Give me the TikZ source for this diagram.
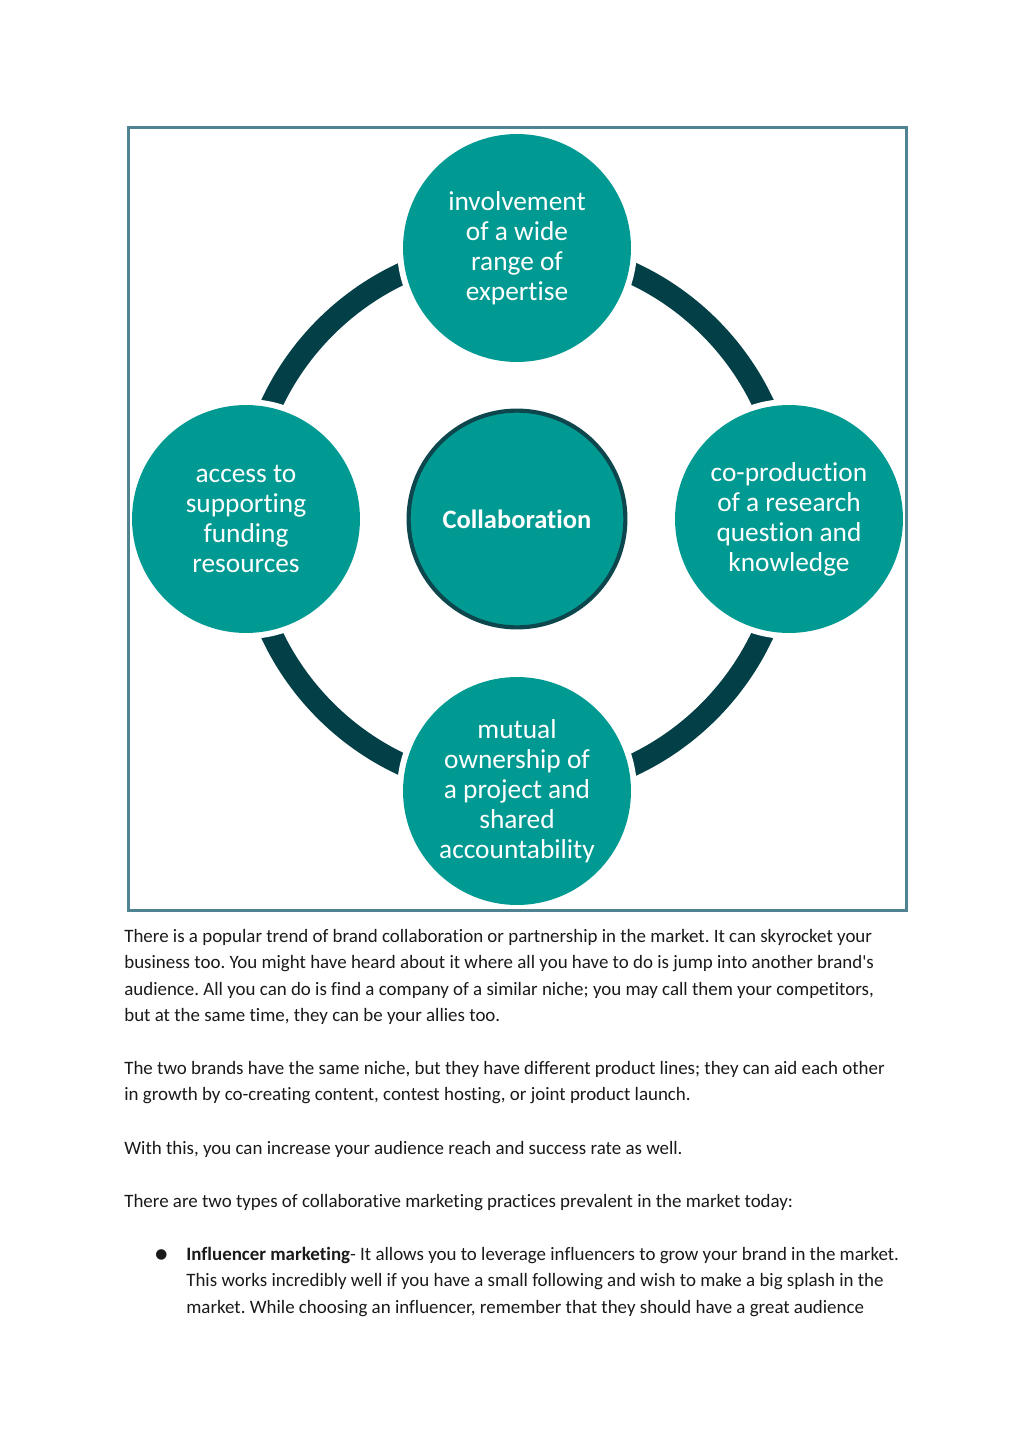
\documentclass[tikz,border=0pt]{standalone}
\usepackage{fontspec}
\setmainfont{Carlito}[Ligatures={TeX,NoCommon}]
\newfontfamily\symf{DejaVu Sans}
\frenchspacing
\definecolor{tealfill}{HTML}{009A93}
\definecolor{ringcol}{HTML}{023F46}
\definecolor{centbord}{HTML}{0D474D}
\definecolor{framecol}{HTML}{4F8391}
\definecolor{bodytext}{HTML}{1A1A1A}
\tikzset{
  bub/.style={circle, fill=tealfill, minimum size=132.5pt, inner sep=0pt,
    text=white, align=center, font=\fontsize{15.9}{17.4}\selectfont,
    preaction={draw=white, line width=7pt}},
  centbub/.style={circle, fill=tealfill, draw=centbord, line width=2.4pt,
    minimum size=126pt, inner sep=0pt, text=white,
    font=\bfseries\fontsize{15.4}{17.4}\selectfont},
  ringarc/.style={draw=ringcol, line width=12.8pt},
  bodyline/.style={anchor=base west, inner sep=0pt, text=bodytext,
    font=\fontsize{11}{13}\selectfont},
}
\begin{document}
\begin{tikzpicture}[x=0.58125pt, y=-0.58125pt]
\useasboundingbox (0,0) rectangle (1024,1446);
\fill[white] (0,0) rectangle (1024,1446);
% centres
\coordinate (ct) at (517,248);
\coordinate (cl) at (246,519);
\coordinate (cr) at (789,519);
\coordinate (cb) at (517,791);
\coordinate (cc) at (517,519);
% ring arcs
\draw[ringarc] (ct) arc[start angle=-90, end angle=-180, radius=271];
\draw[ringarc] (cl) arc[start angle=-180, end angle=-270, radius=271];
\draw[ringarc] (cb) arc[start angle=90, end angle=0, radius=271];
\draw[ringarc] (cr) arc[start angle=0, end angle=-90, radius=271];
% bubbles
\node[bub] (top) at (ct) {involvement\\of a wide\\range of\\expertise};
\node[bub] (left) at (cl) {access to\\supporting\\funding\\resources};
\node[bub] (right) at (cr) {co-production\\of a research\\question and\\knowledge};
\node[bub] (bottom) at (cb) {mutual\\ownership of\\a project and\\shared\\accountability};
\node[centbub] (centre) at (cc) {Collaboration};
% frame
\node[draw=framecol, line width=1.75pt, minimum width=452pt, minimum height=455pt, inner sep=0pt] (frame) at (517.5,519) {};
% body text
\node[bodyline] (p1a) at (124,942) {There is a popular trend of brand collaboration or partnership in the market. It can skyrocket your};
\node[bodyline] (p1b) at (124,968.5) {business too. You might have heard about it where all you have to do is jump into another brand\textquotesingle s};
\node[bodyline] (p1c) at (124,995) {audience. All you can do is find a company of a similar niche; you may call them your competitors,};
\node[bodyline] (p1d) at (124,1021.5) {but at the same time, they can be your allies too.};
\node[bodyline] (p2a) at (124,1074) {The two brands have the same niche, but they have different product lines; they can aid each other};
\node[bodyline] (p2b) at (124,1100.5) {in growth by co-creating content, contest hosting, or joint product launch.};
\node[bodyline] (p3) at (124,1154) {With this, you can increase your audience reach and success rate as well.};
\node[bodyline] (p4) at (124,1207) {There are two types of collaborative marketing practices prevalent in the market today:};
\node[bodyline, font=\symf\fontsize{8}{9}\selectfont] (bul) at (155,1258) {●};
\node[bodyline] (b1a) at (186,1260) {\textbf{Influencer marketing}- It allows you to leverage influencers to grow your brand in the market.};
\node[bodyline] (b1b) at (186,1286.5) {This works incredibly well if you have a small following and wish to make a big splash in the};
\node[bodyline] (b1c) at (186,1313) {market. While choosing an influencer, remember that they should have a great audience};
\end{tikzpicture}
\end{document}
